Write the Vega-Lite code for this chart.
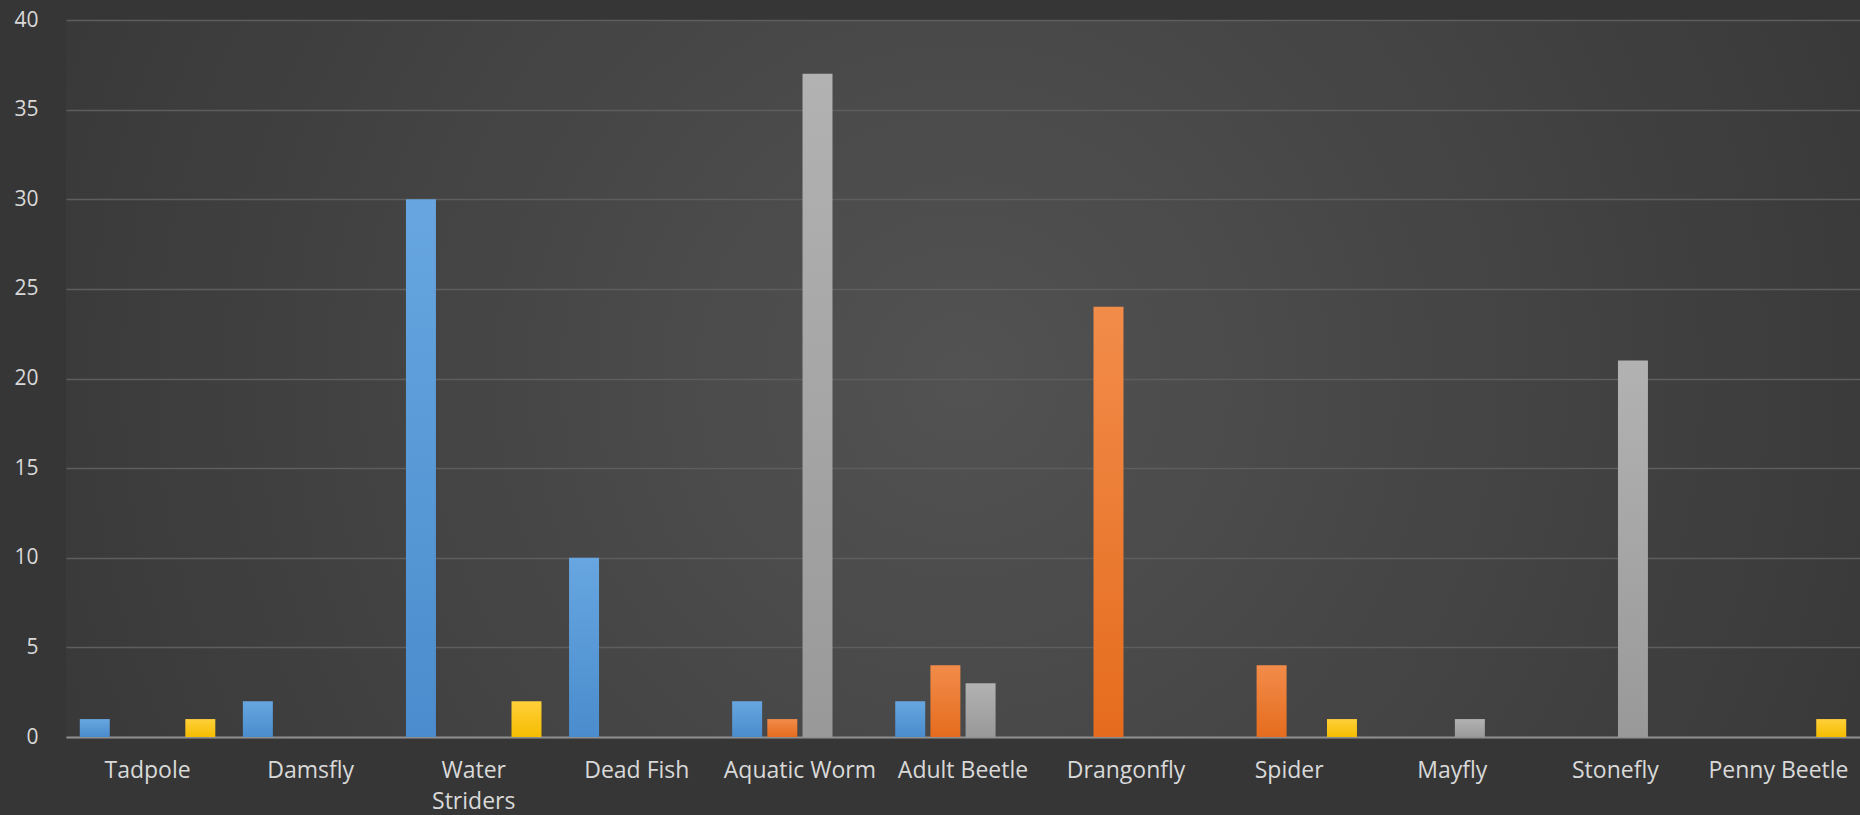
{
  "$schema": "https://vega.github.io/schema/vega-lite/v6.json",
  "autosize": "none",
  "width": 1794,
  "height": 717,
  "padding": {"left": 66, "top": 20, "right": 0, "bottom": 78},
  "background": "#363636",
  "config": {
    "view": {
      "stroke": null,
      "fill": {
        "gradient": "radial",
        "x1": 0.5, "y1": 0.5, "r1": 0,
        "x2": 0.5, "y2": 0.5, "r2": 0.75,
        "stops": [
          {"offset": 0, "color": "#525252"},
          {"offset": 1, "color": "#2f2f2f"}
        ]
      }
    },
    "axis": {
      "labelFont": "Open Sans",
      "labelFontSize": 23,
      "labelColor": "#d9d9d9",
      "titleColor": "#d9d9d9"
    }
  },
  "data": {
    "values": [
      {"category": "Tadpole", "series": "Series1", "value": 1},
      {"category": "Tadpole", "series": "Series4", "value": 1},
      {"category": "Damsfly", "series": "Series1", "value": 2},
      {"category": "Water Striders", "series": "Series1", "value": 30},
      {"category": "Water Striders", "series": "Series4", "value": 2},
      {"category": "Dead Fish", "series": "Series1", "value": 10},
      {"category": "Aquatic Worm", "series": "Series1", "value": 2},
      {"category": "Aquatic Worm", "series": "Series2", "value": 1},
      {"category": "Aquatic Worm", "series": "Series3", "value": 37},
      {"category": "Adult Beetle", "series": "Series1", "value": 2},
      {"category": "Adult Beetle", "series": "Series2", "value": 4},
      {"category": "Adult Beetle", "series": "Series3", "value": 3},
      {"category": "Drangonfly", "series": "Series2", "value": 24},
      {"category": "Spider", "series": "Series2", "value": 4},
      {"category": "Spider", "series": "Series4", "value": 1},
      {"category": "Mayfly", "series": "Series3", "value": 1},
      {"category": "Stonefly", "series": "Series3", "value": 21},
      {"category": "Penny Beetle", "series": "Series4", "value": 1}
    ]
  },
  "encoding": {
    "x": {
      "field": "category",
      "type": "nominal",
      "scale": {
        "domain": ["Tadpole", "Damsfly", "Water Striders", "Dead Fish", "Aquatic Worm", "Adult Beetle", "Drangonfly", "Spider", "Mayfly", "Stonefly", "Penny Beetle"],
        "paddingInner": 0.169,
        "paddingOuter": 0.0845
      },
      "axis": {
        "title": null,
        "labelAngle": 0,
        "ticks": false,
        "domainColor": "#8e8e8e",
        "domainWidth": 2,
        "labelPadding": 22,
        "labelLineHeight": 31,
        "labelExpr": "datum.label == 'Water Striders' ? ['Water', 'Striders'] : datum.label"
      }
    },
    "xOffset": {
      "field": "series",
      "type": "nominal",
      "scale": {
        "domain": ["Series1", "Series2", "Series3", "Series4"],
        "paddingInner": 0.148,
        "paddingOuter": 0
      }
    },
    "y": {
      "field": "value",
      "type": "quantitative",
      "scale": {"domain": [0, 40], "nice": false},
      "axis": {
        "title": null,
        "values": [0, 5, 10, 15, 20, 25, 30, 35, 40],
        "domain": false,
        "ticks": false,
        "labelPadding": 28,
        "labelFontSize": 21,
        "gridColor": "#5e5e5e",
        "gridWidth": 1.5
      }
    }
  },
  "layer": [
    {
      "transform": [{"filter": "datum.series == 'Series1'"}],
      "mark": {
        "type": "bar",
        "color": {
          "gradient": "linear", "x1": 0, "y1": 0, "x2": 0, "y2": 1,
          "stops": [{"offset": 0, "color": "#67a6e0"}, {"offset": 1, "color": "#4a8ccd"}]
        }
      }
    },
    {
      "transform": [{"filter": "datum.series == 'Series2'"}],
      "mark": {
        "type": "bar",
        "color": {
          "gradient": "linear", "x1": 0, "y1": 0, "x2": 0, "y2": 1,
          "stops": [{"offset": 0, "color": "#f28c4a"}, {"offset": 1, "color": "#e56c1e"}]
        }
      }
    },
    {
      "transform": [{"filter": "datum.series == 'Series3'"}],
      "mark": {
        "type": "bar",
        "color": {
          "gradient": "linear", "x1": 0, "y1": 0, "x2": 0, "y2": 1,
          "stops": [{"offset": 0, "color": "#b2b2b2"}, {"offset": 1, "color": "#999999"}]
        }
      }
    },
    {
      "transform": [{"filter": "datum.series == 'Series4'"}],
      "mark": {
        "type": "bar",
        "color": {
          "gradient": "linear", "x1": 0, "y1": 0, "x2": 0, "y2": 1,
          "stops": [{"offset": 0, "color": "#ffd03a"}, {"offset": 1, "color": "#f5bd00"}]
        }
      }
    }
  ]
}
